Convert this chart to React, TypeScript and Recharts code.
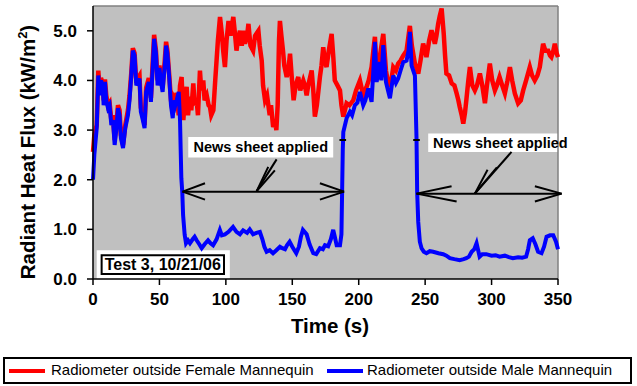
import { LineChart, Line, XAxis, YAxis, CartesianGrid, ReferenceLine, ReferenceArea } from "recharts";

const FONT = "Arial, 'Liberation Sans', Helvetica, sans-serif";

const timeTicks = [0, 50, 100, 150, 200, 250, 300, 350];
const fluxTicks = [0, 1, 2, 3, 4, 5];

const seriesNames = ["Radiometer outside Female Mannequin", "Radiometer outside Male Mannequin"];
const testLabel = "Test 3, 10/21/06";
const noteLabel = "News sheet applied";

// female radiometer (red), time in s
const femaleTime = [
  0, 1, 2.8, 4, 5, 6, 7.3, 8, 9, 10,
  11.3, 12.5, 13.8, 15, 16.3, 17.5, 18.8, 20, 21, 22.6,
  24.3, 26.3, 27.5, 28.8, 30, 31.3, 32.6, 33.8, 35, 36,
  37.5, 38.8, 40, 42, 43.6, 45, 46, 47.4, 48.6, 50,
  51, 52.4, 54, 55, 56, 57.4, 58.7, 60, 61, 62,
  63, 64.5, 65.5, 66.7, 68, 69, 70.5, 71.5, 73, 74,
  75.5, 76.5, 78, 79, 80.5, 81.5, 83, 84, 85.6, 87,
  88, 89, 90.6, 92, 93, 94, 95.6, 97, 98, 99.3,
  100.5, 102, 103.5, 105.6, 107, 108, 109, 110.6, 112, 113,
  114.4, 116, 117, 118.5, 120.5, 122, 124.5, 125.5, 127, 128,
  129.5, 131, 133, 134, 135.6, 137, 138, 139, 140, 140.7,
  141.8, 143, 144, 145.8, 147, 148.3, 149.5, 151, 152.5, 154.5,
  156, 158.3, 159.5, 160.8, 162, 164.6, 165.8, 167, 168.5, 170.8,
  172, 173.3, 174.5, 175.8, 177.5, 179.6, 180.8, 182, 184, 185.9,
  187, 188.4, 190.9, 193, 195.9, 198, 200.9, 203.4, 205.9, 207.5,
  209.7, 211, 212.2, 213.5, 214.7, 216, 218.5, 220.5, 222.2, 224,
  226, 228, 229.7, 231.5, 233.5, 236, 237, 238.5, 240, 242.3,
  244.8, 246.5, 248.5, 250, 251, 253, 254.8, 257.3, 258.5, 259.8,
  261, 262.4, 264, 265, 266, 268, 270, 272, 273.7, 275,
  276, 277.5, 278.7, 280, 281, 282.5, 283.7, 285.5, 287.4, 289,
  291.2, 293, 295, 296.5, 298.7, 300.5, 302.5, 304, 306, 308,
  310, 312, 313.8, 315.5, 317.5, 320, 322, 323.8, 326, 328.8,
  330.5, 332.5, 334.5, 336.3, 337.5, 338.8, 340.5, 342.6, 344, 345,
  346.5, 347.6, 349, 350,
];
const femaleFlux = [
  2.56, 2.9, 3.1, 4.2, 3.8, 4.05, 3.95, 3.6, 4.02, 3.7,
  3.5, 3.55, 3.2, 3.3, 2.8, 3.1, 3.5, 3.4, 2.9, 2.7,
  3.1, 3.4, 3.7, 4.15, 4.65, 4.55, 3.95, 4.05, 4.1, 3.45,
  3.3, 3.1, 3.85, 4.05, 3.65, 4.4, 4.92, 4.6, 4.0, 4.3,
  4.1, 3.85, 4.4, 4.78, 4.6, 4.1, 3.6, 3.35, 3.65, 3.6,
  3.75, 3.3, 3.9, 4.07, 3.2, 3.6, 3.87, 3.3, 3.67, 3.4,
  3.94, 3.5, 3.6, 3.3, 4.2, 3.8, 4.0, 3.6, 3.7, 3.5,
  3.47, 3.3, 3.4, 4.0, 4.4, 4.8, 5.28, 4.94, 4.6, 4.27,
  4.8, 5.2, 4.9, 5.28, 4.9, 4.6, 4.8, 5.0, 4.7, 5.0,
  4.74, 4.9, 5.14, 4.7, 4.6, 4.9, 5.0, 4.7, 4.4, 3.9,
  3.6, 3.7, 3.3, 3.5, 3.06, 3.2, 3.0, 3.5, 4.8, 5.2,
  4.9, 4.6, 4.3, 4.07, 4.2, 4.54, 4.1, 3.6, 3.9, 4.07,
  3.8, 4.0, 3.9, 3.7, 3.9, 4.2, 3.8, 3.27, 3.5, 4.07,
  4.3, 4.67, 4.4, 4.27, 4.6, 4.94, 4.5, 4.0, 3.9, 3.8,
  3.5, 3.27, 3.54, 3.5, 3.6, 3.8, 4.0, 3.7, 3.87, 4.0,
  4.27, 4.6, 4.88, 4.2, 4.2, 4.5, 4.94, 4.2, 3.94, 3.9,
  4.27, 4.2, 4.34, 4.4, 4.5, 4.6, 4.8, 5.1, 4.7, 4.34,
  4.14, 4.4, 4.74, 4.6, 4.47, 4.8, 5.01, 4.74, 4.9, 5.14,
  5.3, 5.45, 4.94, 4.5, 4.14, 4.1, 3.94, 3.9, 3.74, 3.6,
  3.47, 3.3, 3.13, 3.35, 3.6, 4.0, 4.27, 3.9, 3.8, 3.9,
  4.14, 3.9, 3.54, 3.9, 4.34, 4.0, 3.8, 3.9, 4.07, 3.9,
  3.74, 4.0, 4.27, 4.0, 3.74, 3.54, 3.6, 3.8, 4.0, 4.27,
  4.1, 4.0, 4.1, 4.27, 4.5, 4.74, 4.6, 4.6, 4.5, 4.47,
  4.6, 4.74, 4.55, 4.47,
];

// male radiometer (blue)
const maleTime = [
  0, 1, 2.8, 4, 5, 6, 7.3, 8, 9, 10,
  11.3, 12.5, 13.8, 15, 16.3, 17.5, 18.8, 20, 21, 22.6,
  24.3, 26.3, 27.5, 28.8, 30, 31.3, 32.6, 33.8, 35, 36,
  37.5, 38.8, 40, 42, 43.6, 45, 46, 47.4, 48.6, 50,
  51, 52.4, 54, 55, 56, 57.4, 58.7, 60, 61, 62,
  63, 64.5, 65.5, 66, 66.5, 67.2, 67.8, 69, 70, 71.5,
  73, 75, 76.5, 78, 80, 81.8, 84, 86.6, 88.5, 90.4,
  93, 95.5, 97, 99.3, 102, 105.4, 108, 110.6, 113, 116,
  118, 120.5, 123, 125.6, 127.5, 129, 130.7, 133, 135.5, 138,
  140.7, 142.5, 144.5, 146, 148, 150, 153, 155, 156.5, 158,
  160.8, 163, 165.8, 168, 170.8, 173, 174.6, 177, 179, 180.8,
  182, 183.4, 185.9, 187, 187.5, 188, 188.4, 190.9, 193.4, 195,
  197.1, 199, 200.9, 203.4, 205, 207.2, 209.7, 211, 212.2, 213.5,
  216, 217, 218.5, 220.5, 222, 223.5, 226, 228, 229.7, 231.5,
  233.5, 236, 237.5, 238.5, 239.8, 242.3, 243.5, 244, 244.8, 246,
  247.3, 249, 251, 253.5, 256, 260, 263.6, 266, 268.6, 272,
  276, 279, 281, 283, 285, 287, 288.7, 291, 293, 296,
  300, 303, 306, 310, 313, 316, 320, 323, 326, 327.5,
  328.8, 331, 333, 335, 337.6, 339.5, 341.4, 344, 346.4, 348.5,
  350,
];
const maleFlux = [
  2.0, 2.5, 3.04, 4.1, 3.7, 4.0, 3.9, 3.5, 3.97, 3.6,
  3.44, 3.5, 3.1, 3.2, 2.7, 3.0, 3.44, 3.3, 2.84, 2.64,
  3.04, 3.3, 3.6, 4.1, 4.6, 4.5, 3.9, 3.97, 4.04, 3.37,
  3.2, 3.04, 3.77, 3.97, 3.57, 4.3, 4.84, 4.55, 3.9, 4.25,
  4.0, 3.77, 4.3, 4.7, 4.55, 4.04, 3.5, 3.24, 3.6, 3.5,
  3.6, 3.77, 3.2, 2.6, 2.03, 1.75, 1.29, 0.89, 0.72, 0.78,
  0.72, 0.8, 0.85, 0.78, 0.7, 0.62, 0.7, 0.78, 0.72, 0.68,
  0.8, 0.99, 0.88, 0.9, 0.95, 1.05, 0.95, 0.9, 0.98, 0.93,
  1.0, 0.9, 0.93, 0.95, 0.8, 0.65, 0.55, 0.58, 0.52, 0.58,
  0.65, 0.62, 0.6, 0.68, 0.75, 0.65, 0.52, 0.65, 0.85, 0.99,
  0.9, 0.7, 0.52, 0.5, 0.62, 0.6, 0.68, 0.66, 0.8, 0.99,
  0.85, 0.68, 0.68, 0.9, 1.75, 2.6, 2.96, 3.24, 3.37, 3.3,
  3.5, 3.55, 3.77, 3.5, 3.6, 3.84, 3.57, 4.2, 4.78, 3.97,
  4.37, 4.0, 4.71, 3.97, 3.8, 3.64, 4.1, 3.95, 4.04, 4.2,
  4.37, 4.4, 4.6, 4.98, 4.3, 4.1, 2.84, 1.75, 1.15, 0.75,
  0.62, 0.55, 0.52, 0.56, 0.55, 0.52, 0.5, 0.47, 0.42, 0.4,
  0.38, 0.4, 0.42, 0.45, 0.55, 0.6, 0.72, 0.45, 0.5, 0.5,
  0.47, 0.48, 0.45, 0.47, 0.44, 0.42, 0.44, 0.43, 0.45, 0.6,
  0.78, 0.82, 0.7, 0.55, 0.52, 0.65, 0.85, 0.88, 0.88, 0.75,
  0.6,
];

const femaleData = femaleTime.map((t, i) => ({ t, flux: femaleFlux[i] }));
const maleData = maleTime.map((t, i) => ({ t, flux: maleFlux[i] }));

// annotation strokes in (time, flux) units
const arrowStrokes: [number, number, number, number][] = [
  // first bracket
  [67.4, 1.76, 189, 1.76],
  [67.4, 1.76, 84.3, 1.93],
  [67.4, 1.76, 84.3, 1.6],
  [189, 1.76, 170.8, 1.93],
  [189, 1.76, 170.8, 1.6],
  [123.2, 1.77, 138.2, 2.41],
  [123.2, 1.77, 136.9, 2.19],
  [123.2, 1.77, 131.9, 2.26],
  // second bracket
  [243.5, 1.72, 352.7, 1.72],
  [243.5, 1.72, 269.9, 1.87],
  [243.5, 1.72, 273.7, 1.56],
  [352.7, 1.72, 332.6, 1.87],
  [352.7, 1.72, 332.6, 1.56],
  [287.4, 1.72, 315, 2.56],
  [287.4, 1.72, 297, 2.2],
  [287.4, 1.72, 304, 2.25],
  // small marks on the step
  [185.5, 2.8, 190.5, 2.8],
  [241, 2.8, 246, 2.8],
];

const YTitle = () => (
  <text
    x={35}
    y={152}
    transform="rotate(-90, 35, 152)"
    textAnchor="middle"
    fontFamily={FONT}
    fontWeight="bold"
    fontSize={20.5}
    fill="#000"
  >
    Radiant Heat Flux (kW/m
    <tspan fontSize={13} dy={-8}>2</tspan>
    <tspan dy={8}>)</tspan>
  </text>
);

const XTitle = () => (
  <text x={330} y={333} textAnchor="middle" fontFamily={FONT} fontWeight="bold" fontSize={20.5} fill="#000">
    Time (s)
  </text>
);

const tickStyle = { fontFamily: FONT, fontWeight: "bold", fontSize: 17, fill: "#000" };

export default function App() {
  return (
    <div style={{ position: "relative", width: 637, height: 386, background: "#fff" }}>
      <style>{"body{margin:0}"}</style>
      <LineChart width={637} height={386} margin={{ top: 6, right: 79, bottom: 47, left: 0 }}>
        <CartesianGrid fill="#c0c0c0" horizontal={false} vertical={false} />
        <XAxis
          type="number"
          dataKey="t"
          domain={[0, 350]}
          ticks={timeTicks}
          height={60}
          tick={tickStyle}
          tickSize={6}
          tickMargin={8}
          axisLine={{ stroke: "#000", strokeWidth: 1.5 }}
          tickLine={{ stroke: "#000", strokeWidth: 1.5 }}
          allowDuplicatedCategory={false}
          label={() => <XTitle />}
        />
        <YAxis
          type="number"
          dataKey="flux"
          domain={[0, 5.5]}
          ticks={fluxTicks}
          width={93}
          tick={tickStyle}
          tickSize={6}
          tickMargin={10}
          tickFormatter={(v: number) => v.toFixed(1)}
          axisLine={{ stroke: "#000", strokeWidth: 1.5 }}
          tickLine={{ stroke: "#000", strokeWidth: 1.5 }}
          label={() => <YTitle />}
        />
        <ReferenceLine y={5.5} stroke="#808080" strokeWidth={1.5} />
        <ReferenceLine x={350} stroke="#808080" strokeWidth={1.5} />
        <Line
          data={femaleData}
          dataKey="flux"
          name={seriesNames[0]}
          stroke="#ff0000"
          strokeWidth={4.5}
          dot={false}
          isAnimationActive={false}
        />
        <Line
          data={maleData}
          dataKey="flux"
          name={seriesNames[1]}
          stroke="#0000ff"
          strokeWidth={4}
          dot={false}
          isAnimationActive={false}
        />
        <ReferenceArea
          x1={71.7}
          x2={180.8}
          y1={2.45}
          y2={2.86}
          fill="#fff"
          fillOpacity={1}
          stroke="none"
          ifOverflow="visible"
          label={{ value: noteLabel, position: "center", fill: "#000", fontSize: 14.5, fontWeight: "bold", fontFamily: FONT }}
        />
        <ReferenceArea
          x1={252.3}
          x2={361}
          y1={2.56}
          y2={2.93}
          fill="#fff"
          fillOpacity={1}
          stroke="none"
          ifOverflow="visible"
          label={{ value: noteLabel, position: "center", fill: "#000", fontSize: 14.5, fontWeight: "bold", fontFamily: FONT }}
        />
        <ReferenceArea x1={2.8} x2={103} y1={0} y2={0.58} fill="#fff" fillOpacity={1} stroke="none" />
        <ReferenceArea
          x1={6.5}
          x2={98.6}
          y1={0.1}
          y2={0.48}
          fill="#fff"
          fillOpacity={1}
          stroke="#000"
          strokeWidth={2}
          label={{ value: testLabel, position: "center", fill: "#000", fontSize: 16, fontWeight: "bold", fontFamily: FONT }}
        />
        {arrowStrokes.map(([xa, ya, xb, yb], i) => (
          <ReferenceLine
            key={i}
            segment={[{ x: xa, y: ya }, { x: xb, y: yb }]}
            stroke="#000"
            strokeWidth={2}
            ifOverflow="visible"
          />
        ))}
      </LineChart>
      <div
        style={{
          position: "absolute",
          left: 3,
          top: 357,
          width: 625,
          height: 23,
          border: "2px solid #000",
          background: "#fff",
          fontFamily: FONT,
          fontSize: 15,
          color: "#000",
        }}
      >
        <div style={{ position: "absolute", left: 4, top: 10, width: 36, height: 4, background: "#ff0000" }} />
        <div style={{ position: "absolute", left: 46, top: 2, whiteSpace: "nowrap" }}>{seriesNames[0]}</div>
        <div style={{ position: "absolute", left: 322, top: 10, width: 36, height: 4, background: "#0000ff" }} />
        <div style={{ position: "absolute", left: 362, top: 2, whiteSpace: "nowrap" }}>{seriesNames[1]}</div>
      </div>
    </div>
  );
}
